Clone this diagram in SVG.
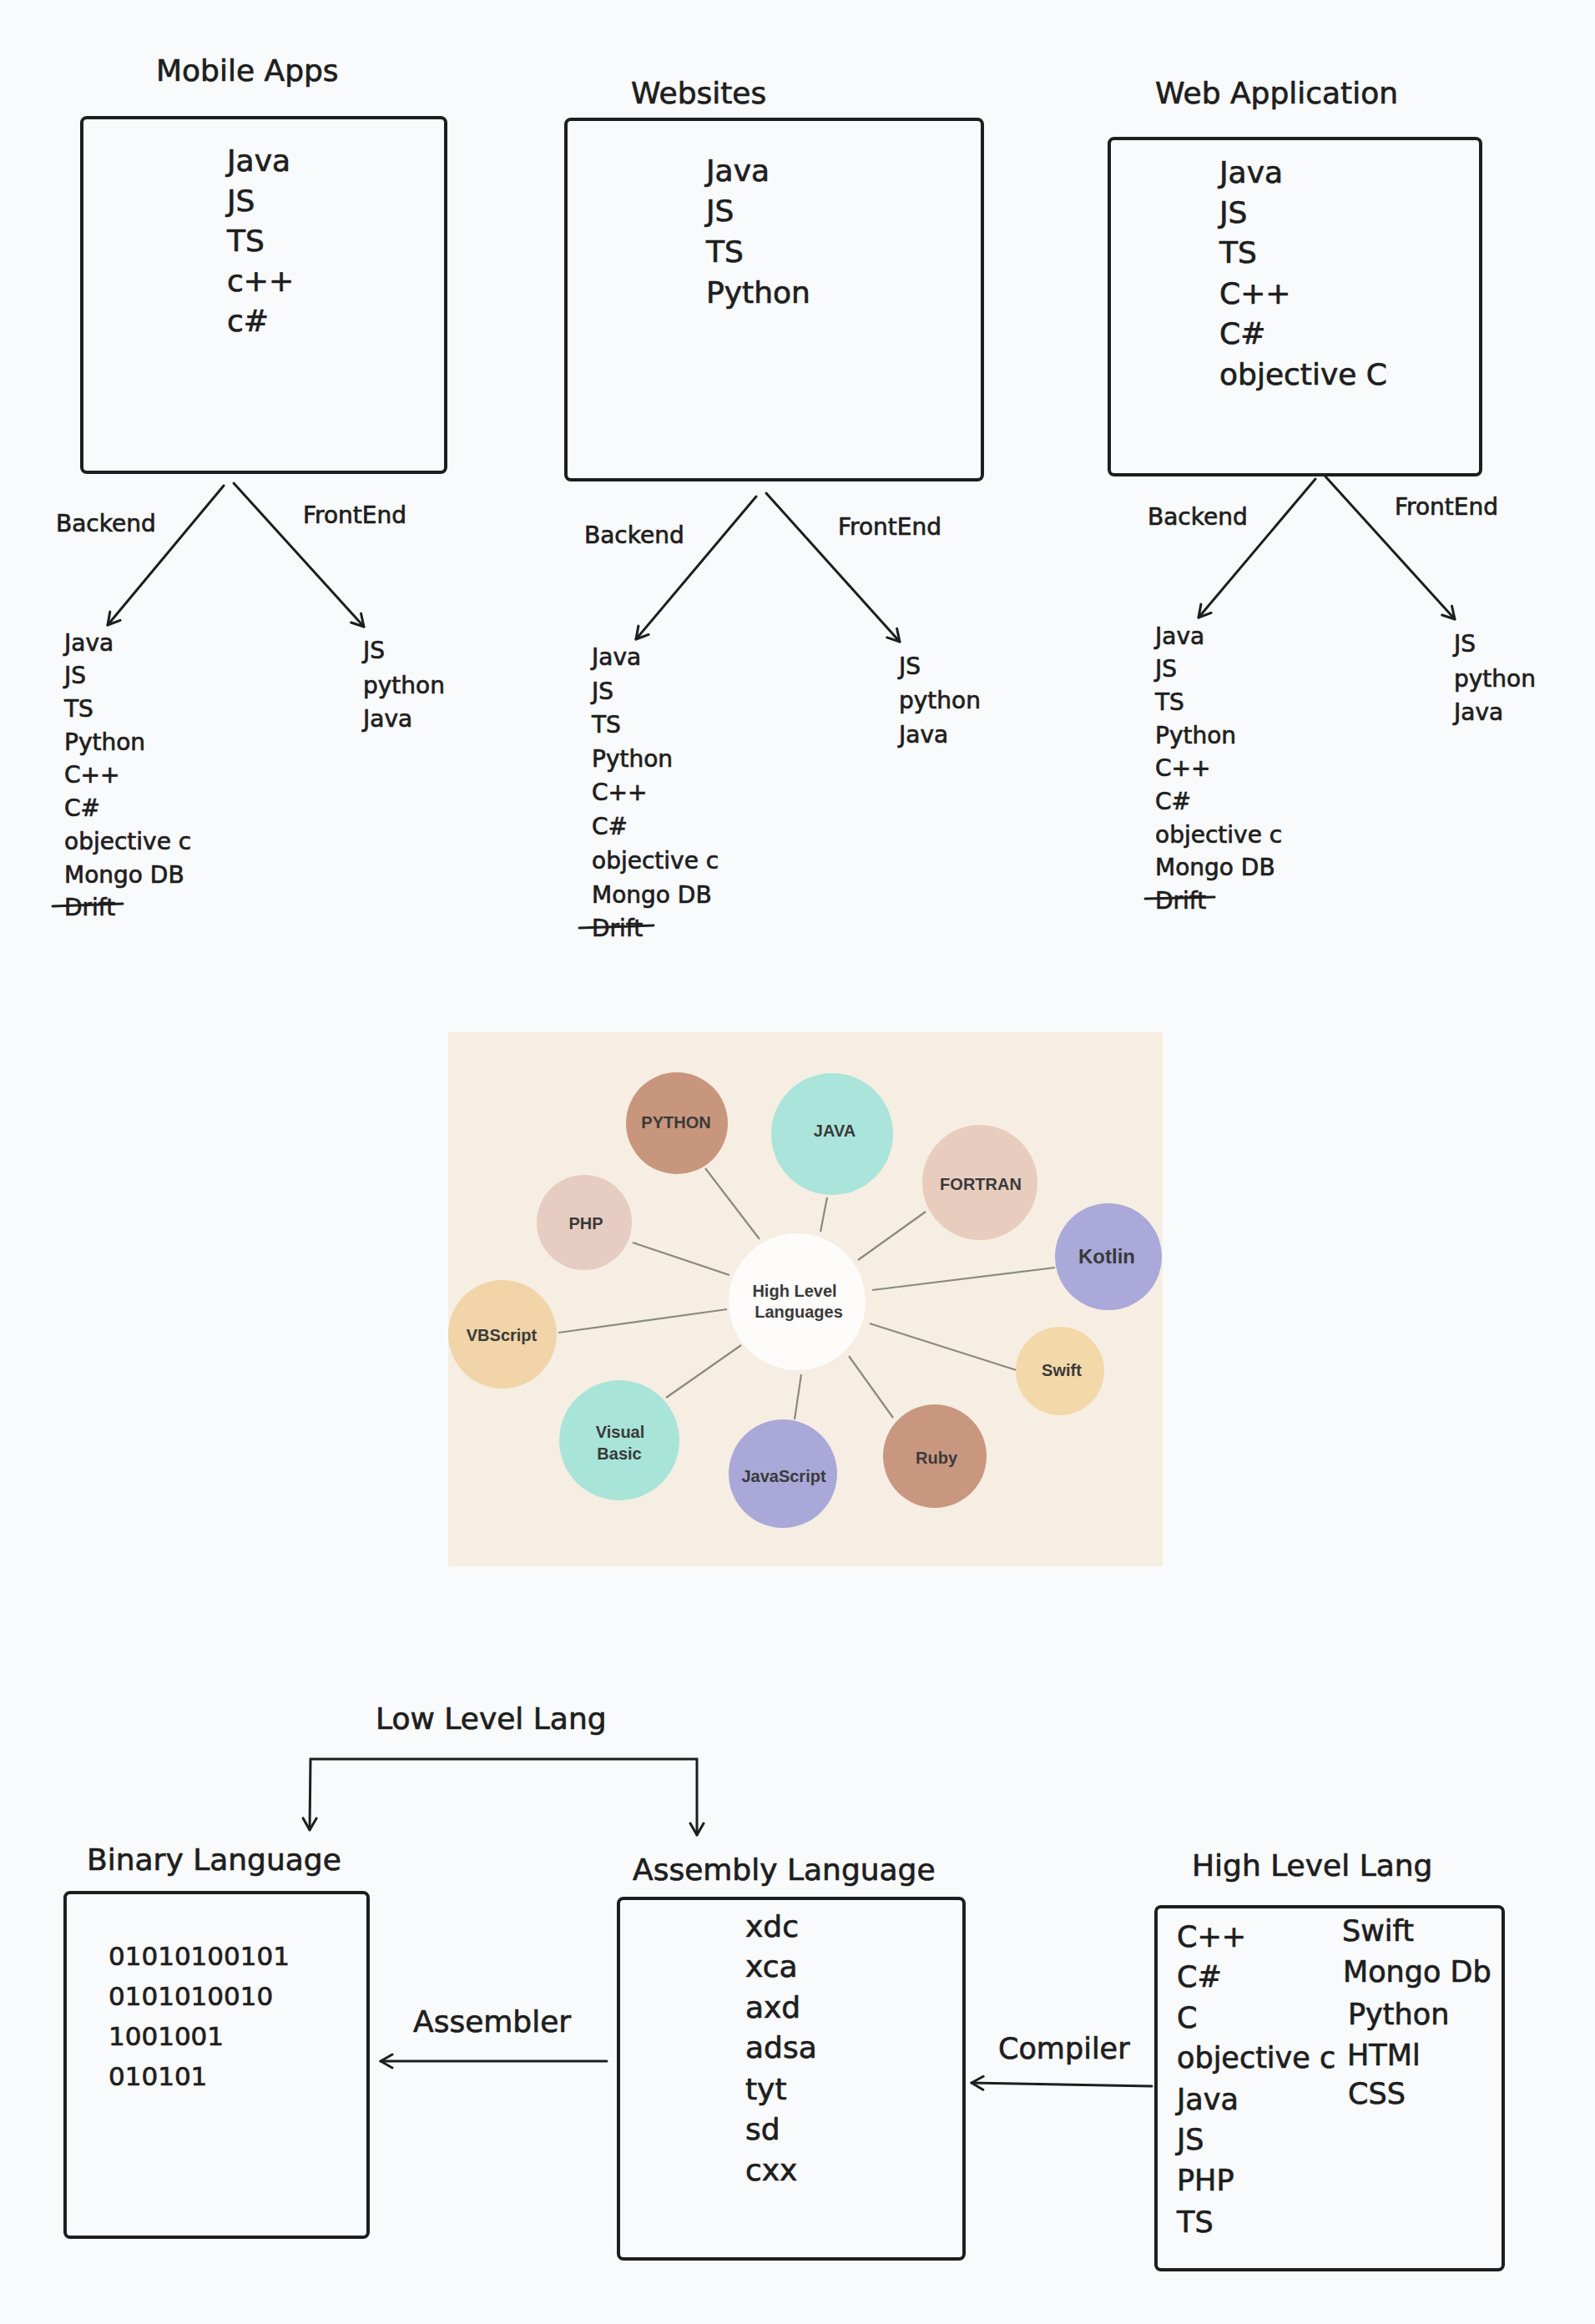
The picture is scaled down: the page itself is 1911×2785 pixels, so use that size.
<svg xmlns="http://www.w3.org/2000/svg" width="1911" height="2785" viewBox="0 0 1911 2785">
<defs>
<style>
.t{font-family:"DejaVu Sans","Liberation Sans",sans-serif;fill:#1e1e1e;stroke:#1e1e1e;stroke-width:0.7}
.title{font-size:36px}
.item{font-size:36px}
.lbl{font-size:28px}
.sub{font-size:28px}
.bin{font-size:31px}
.hl{font-size:35px}
.box{fill:none;stroke:#1e1e1e;stroke-width:4}
.conn{fill:none;stroke:#1e1e1e;stroke-width:3;stroke-linecap:round}
.strike{fill:none;stroke:#1e1e1e;stroke-width:3;stroke-linecap:round}
.spoke{stroke:#8b897e;stroke-width:2.2}
.cl{font-family:"Liberation Sans",Arial,sans-serif;font-weight:bold;font-size:20px;fill:#3a3a3a;text-anchor:middle}
</style>
<marker id="ah" viewBox="-16 -10 20 20" refX="0" refY="0" markerWidth="20" markerHeight="20" markerUnits="userSpaceOnUse" orient="auto-start-reverse">
<path d="M -14 -8 L 0 0 L -14 8" fill="none" stroke="#1e1e1e" stroke-width="3" stroke-linecap="round" stroke-linejoin="round"/>
</marker>
</defs>
<rect width="1911" height="2785" fill="#f9fafb"/>

<!-- Mobile Apps -->
<g id="mobile-apps">
<text class="t title" x="187" y="97">Mobile Apps</text>
<rect class="box" x="98" y="141" width="436" height="425" rx="6"/>
<text class="t item" x="272" y="205">Java</text>
<text class="t item" x="272" y="253">JS</text>
<text class="t item" x="272" y="301">TS</text>
<text class="t item" x="272" y="349">c++</text>
<text class="t item" x="272" y="397">c#</text>
</g>
<g id="mobile-backend">
<text class="t sub" x="77" y="780">Java</text>
<text class="t sub" x="77" y="819">JS</text>
<text class="t sub" x="77" y="859">TS</text>
<text class="t sub" x="77" y="899">Python</text>
<text class="t sub" x="77" y="938">C++</text>
<text class="t sub" x="77" y="978">C#</text>
<text class="t sub" x="77" y="1018">objective c</text>
<text class="t sub" x="77" y="1058">Mongo DB</text>
<text class="t sub" x="77" y="1097">Drift</text>
<line class="strike" x1="63" y1="1086" x2="147" y2="1083"/>
</g>
<g id="mobile-frontend">
<text class="t sub" x="435" y="789">JS</text>
<text class="t sub" x="435" y="831">python</text>
<text class="t sub" x="435" y="871">Java</text>
</g>

<!-- Websites -->
<g id="websites">
<text class="t title" x="756" y="124">Websites</text>
<rect class="box" x="678" y="143" width="499" height="432" rx="6"/>
<text class="t item" x="846" y="217">Java</text>
<text class="t item" x="846" y="265">JS</text>
<text class="t item" x="846" y="314">TS</text>
<text class="t item" x="846" y="363">Python</text>
</g>
<g id="websites-backend">
<text class="t sub" x="709" y="797">Java</text>
<text class="t sub" x="709" y="838">JS</text>
<text class="t sub" x="709" y="878">TS</text>
<text class="t sub" x="709" y="919">Python</text>
<text class="t sub" x="709" y="959">C++</text>
<text class="t sub" x="709" y="1000">C#</text>
<text class="t sub" x="709" y="1041">objective c</text>
<text class="t sub" x="709" y="1082">Mongo DB</text>
<text class="t sub" x="709" y="1122">Drift</text>
<line class="strike" x1="694" y1="1112" x2="783" y2="1109"/>
</g>
<g id="websites-frontend">
<text class="t sub" x="1077" y="808">JS</text>
<text class="t sub" x="1077" y="849">python</text>
<text class="t sub" x="1077" y="890">Java</text>
</g>

<!-- Web Application -->
<g id="web-application">
<text class="t title" x="1384" y="124">Web Application</text>
<rect class="box" x="1329" y="166" width="445" height="403" rx="6"/>
<text class="t item" x="1461" y="219">Java</text>
<text class="t item" x="1461" y="267">JS</text>
<text class="t item" x="1461" y="315">TS</text>
<text class="t item" x="1461" y="364">C++</text>
<text class="t item" x="1461" y="412">C#</text>
<text class="t item" x="1461" y="461">objective C</text>
</g>
<g id="webapp-backend">
<text class="t sub" x="1384" y="772">Java</text>
<text class="t sub" x="1384" y="811">JS</text>
<text class="t sub" x="1384" y="851">TS</text>
<text class="t sub" x="1384" y="891">Python</text>
<text class="t sub" x="1384" y="930">C++</text>
<text class="t sub" x="1384" y="970">C#</text>
<text class="t sub" x="1384" y="1010">objective c</text>
<text class="t sub" x="1384" y="1049">Mongo DB</text>
<text class="t sub" x="1384" y="1089">Drift</text>
<line class="strike" x1="1372" y1="1077" x2="1455" y2="1075"/>
</g>
<g id="webapp-frontend">
<text class="t sub" x="1742" y="781">JS</text>
<text class="t sub" x="1742" y="823">python</text>
<text class="t sub" x="1742" y="863">Java</text>
</g>

<!-- High level languages picture -->
<g id="hll-picture">
<rect x="537" y="1237" width="856" height="640" fill="#f6eee2"/>
<g id="spokes">
<line class="spoke" x1="845" y1="1400" x2="910" y2="1485"/>
<line class="spoke" x1="991" y1="1435" x2="983" y2="1476"/>
<line class="spoke" x1="1109" y1="1452" x2="1028" y2="1510"/>
<line class="spoke" x1="758" y1="1489" x2="874" y2="1528"/>
<line class="spoke" x1="1264" y1="1519" x2="1045" y2="1546"/>
<line class="spoke" x1="669" y1="1597" x2="871" y2="1569"/>
<line class="spoke" x1="1221" y1="1643" x2="1042" y2="1586"/>
<line class="spoke" x1="798" y1="1675" x2="888" y2="1612"/>
<line class="spoke" x1="952" y1="1701" x2="960" y2="1647"/>
<line class="spoke" x1="1070" y1="1699" x2="1017" y2="1625"/>
</g>
<g id="c-center"><circle cx="955" cy="1560" r="82" fill="#fdfcfa"/>
<text class="cl" x="952" y="1554">High Level</text><text class="cl" x="957" y="1579">Languages</text></g>
<g id="c-python"><circle cx="811" cy="1346" r="61" fill="#c8967c"/><text class="cl" x="810" y="1352">PYTHON</text></g>
<g id="c-java"><circle cx="997" cy="1359" r="73" fill="#aae4da"/><text class="cl" x="1000" y="1362">JAVA</text></g>
<g id="c-fortran"><circle cx="1174" cy="1417" r="69" fill="#e8cdbf"/><text class="cl" x="1175" y="1426">FORTRAN</text></g>
<g id="c-php"><circle cx="700" cy="1465" r="57" fill="#e7ccc1"/><text class="cl" x="702" y="1473">PHP</text></g>
<g id="c-kotlin"><circle cx="1328" cy="1506" r="64" fill="#aaa9d9"/><text class="cl" x="1326" y="1514" style="font-size:24px">Kotlin</text></g>
<g id="c-vbscript"><circle cx="602" cy="1599" r="65" fill="#f1d4a8"/><text class="cl" x="601" y="1607">VBScript</text></g>
<g id="c-swift"><circle cx="1270" cy="1643" r="53" fill="#f3d8aa"/><text class="cl" x="1272" y="1649">Swift</text></g>
<g id="c-visualbasic"><circle cx="742" cy="1726" r="72" fill="#a9e4d9"/><text class="cl" x="743" y="1723">Visual</text><text class="cl" x="742" y="1749">Basic</text></g>
<g id="c-javascript"><circle cx="938" cy="1766" r="65" fill="#a9a8d8"/><text class="cl" x="939" y="1776">JavaScript</text></g>
<g id="c-ruby"><circle cx="1120" cy="1745" r="62" fill="#c99780"/><text class="cl" x="1122" y="1754">Ruby</text></g>
</g>

<!-- Bottom section -->
<g id="binary-language">
<text class="t title" x="104" y="2241">Binary Language</text>
<rect class="box" x="78" y="2268" width="363" height="413" rx="6"/>
<text class="t bin" x="130" y="2355">01010100101</text>
<text class="t bin" x="130" y="2403">0101010010</text>
<text class="t bin" x="130" y="2451">1001001</text>
<text class="t bin" x="130" y="2499">010101</text>
</g>
<g id="assembly-language">
<text class="t title" x="758" y="2253">Assembly Language</text>
<rect class="box" x="741" y="2275" width="414" height="432" rx="6"/>
<text class="t item" x="893" y="2321">xdc</text>
<text class="t item" x="893" y="2369">xca</text>
<text class="t item" x="893" y="2418">axd</text>
<text class="t item" x="893" y="2466">adsa</text>
<text class="t item" x="893" y="2516">tyt</text>
<text class="t item" x="893" y="2564">sd</text>
<text class="t item" x="893" y="2613">cxx</text>
</g>
<g id="high-level-lang">
<text class="t title" x="1428" y="2248">High Level Lang</text>
<rect class="box" x="1385" y="2285" width="416" height="435" rx="6"/>
<text class="t hl" x="1410" y="2333">C++</text>
<text class="t hl" x="1410" y="2381">C#</text>
<text class="t hl" x="1410" y="2430">C</text>
<text class="t hl" x="1410" y="2478">objective c</text>
<text class="t hl" x="1410" y="2528">Java</text>
<text class="t hl" x="1410" y="2576">JS</text>
<text class="t hl" x="1410" y="2625">PHP</text>
<text class="t hl" x="1410" y="2675">TS</text>
<text class="t hl" x="1608" y="2326">Swift</text>
<text class="t hl" x="1609" y="2375">Mongo Db</text>
<text class="t hl" x="1615" y="2426">Python</text>
<text class="t hl" x="1614" y="2475">HTMl</text>
<text class="t hl" x="1615" y="2521">CSS</text>
</g>

<g id="connectors">
<line class="conn" x1="268" y1="582" x2="129" y2="749" marker-end="url(#ah)"/>
<line class="conn" x1="280" y1="579" x2="436" y2="751" marker-end="url(#ah)"/>
<line class="conn" x1="906" y1="595" x2="762" y2="766" marker-end="url(#ah)"/>
<line class="conn" x1="918" y1="591" x2="1078" y2="769" marker-end="url(#ah)"/>
<line class="conn" x1="1576" y1="574" x2="1436" y2="740" marker-end="url(#ah)"/>
<line class="conn" x1="1588" y1="571" x2="1743" y2="742" marker-end="url(#ah)"/>
<path class="conn" d="M 371 2193 L 372 2108 L 835 2108 L 835 2199" marker-start="url(#ah)" marker-end="url(#ah)"/>
<line class="conn" x1="727" y1="2470" x2="456" y2="2470" marker-end="url(#ah)"/>
<line class="conn" x1="1380" y1="2500" x2="1164" y2="2496" marker-end="url(#ah)"/>
<text class="t lbl" x="67" y="637">Backend</text>
<text class="t lbl" x="363" y="627">FrontEnd</text>
<text class="t lbl" x="700" y="651">Backend</text>
<text class="t lbl" x="1004" y="641">FrontEnd</text>
<text class="t lbl" x="1375" y="629">Backend</text>
<text class="t lbl" x="1671" y="617">FrontEnd</text>
<text class="t title" x="450" y="2072">Low Level Lang</text>
<text class="t title" x="495" y="2435">Assembler</text>
<text class="t hl" x="1196" y="2467">Compiler</text>
</g>
</svg>
